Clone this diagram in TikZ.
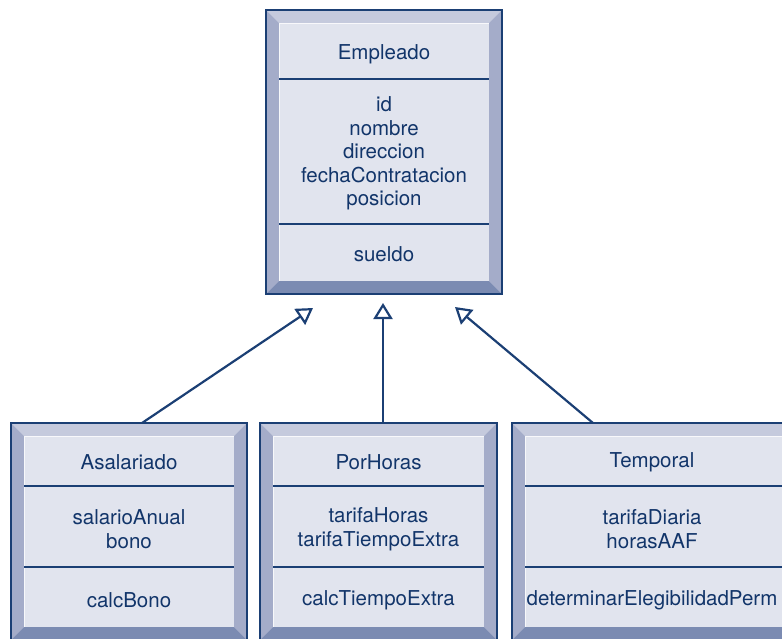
\documentclass[tikz,border=0pt]{standalone}
\usepackage{fontspec}
\setmainfont{TeX Gyre Heros}
\usetikzlibrary{arrows.meta,calc}
\definecolor{edgeblue}{HTML}{1B3F74}
\definecolor{facecol}{HTML}{E1E4EE}
\definecolor{bevtop}{HTML}{C5CADD}
\definecolor{bevside}{HTML}{A4ACC9}
\definecolor{bevbot}{HTML}{7B8BB2}
\definecolor{txtcol}{HTML}{12356A}
\tikzset{
  classbox/.style={rectangle, fill=facecol, draw=none, inner sep=0pt, outer sep=0pt},
  frameline/.style={draw=edgeblue, line width=1.5pt},
  divline/.style={draw=edgeblue, line width=1.2pt},
  label/.style={font=\fontsize{20.5}{23.5}\selectfont, text=txtcol, align=center, inner sep=0pt},
  inh/.style={draw=edgeblue, line width=2.2pt, -{Triangle[open, length=16pt, width=19pt, fill=white]}},
}
% name, cx, cy, w, h
\newcommand\bevelbox[5]{%
  \node[classbox, minimum width=#4pt, minimum height=#5pt] (#1) at (#2,#3) {};
  \fill[bevtop] (#1.north west) -- (#1.north east) -- ($(#1.north east)+(-13,13)$) -- ($(#1.north west)+(13,13)$) -- cycle;
  \fill[bevside] (#1.north west) -- ($(#1.north west)+(13,13)$) -- ($(#1.south west)+(13,-13)$) -- (#1.south west) -- cycle;
  \fill[bevside] (#1.north east) -- ($(#1.north east)+(-13,13)$) -- ($(#1.south east)+(-13,-13)$) -- (#1.south east) -- cycle;
  \fill[bevbot] (#1.south west) -- ($(#1.south west)+(13,-13)$) -- ($(#1.south east)+(-13,-13)$) -- (#1.south east) -- cycle;
  \draw[white, line width=0.7pt, opacity=0.8] ($(#1.south west)+(13,-13)$) -- ($(#1.north west)+(13,13)$) -- ($(#1.north east)+(-13,13)$);
  \draw[frameline] (#1.north west) rectangle (#1.south east);
}
\begin{document}
\begin{tikzpicture}[x=1pt, y=-1pt]
\useasboundingbox (0,0) rectangle (782,638);
\clip (0,0) rectangle (782,638);

% Empleado
\bevelbox{emp}{384}{152}{236}{284}
\draw[divline] ($(emp.north west)+(13,69)$) -- ($(emp.north east)+(-13,69)$);
\draw[divline] ($(emp.north west)+(13,214)$) -- ($(emp.north east)+(-13,214)$);
\node[label] (empname) at ($(emp.north)+(0,44)$) {Empleado};
\node[label] (empattr) at ($(emp.north)+(0,143.5)$) {id\\nombre\\direccion\\fechaContratacion\\posicion};
\node[label] (empops) at ($(emp.north)+(0,244)$) {sueldo};

% Asalariado
\bevelbox{asal}{129}{531.5}{236}{217}
\draw[divline] ($(asal.north west)+(13,63)$) -- ($(asal.north east)+(-13,63)$);
\draw[divline] ($(asal.north west)+(13,144)$) -- ($(asal.north east)+(-13,144)$);
\node[label] (asalname) at ($(asal.north)+(0,39)$) {Asalariado};
\node[label] (asalattr) at ($(asal.north)+(0,106)$) {salarioAnual\\bono};
\node[label] (asalops) at ($(asal.north)+(0,177.5)$) {calcBono};

% PorHoras
\bevelbox{por}{378.5}{531.5}{237}{217}
\draw[divline] ($(por.north west)+(13,63)$) -- ($(por.north east)+(-13,63)$);
\draw[divline] ($(por.north west)+(13,144)$) -- ($(por.north east)+(-13,144)$);
\node[label] (porname) at ($(por.north)+(0,39)$) {PorHoras};
\node[label] (porattr) at ($(por.north)+(0,106)$) {tarifaHoras\\tarifaTiempoExtra};
\node[label] (porops) at ($(por.north)+(0,177.5)$) {calcTiempoExtra};

% Temporal (extends past the right edge)
\bevelbox{temp}{662}{531.5}{300}{217}
\draw[divline] ($(temp.north west)+(13,63)$) -- ($(temp.north east)+(-13,63)$);
\draw[divline] ($(temp.north west)+(13,144)$) -- ($(temp.north east)+(-13,144)$);
\node[label] (tempname) at ($(temp.north)+(-10,39)$) {Temporal};
\node[label] (tempattr) at ($(temp.north)+(-10,106)$) {tarifaDiaria\\horasAAF};
\node[label] (tempops) at ($(temp.north)+(-10,177.5)$) {determinarElegibilidadPerm};

% Inheritance connectors
\draw[inh] ($(asal.north)+(13,0)$) -- ($(emp.south)+(-71,14)$);
\draw[inh] ($(por.north)+(4.5,0)$) -- ($(emp.south)+(-1,9)$);
\draw[inh] ($(temp.north)+(-69,0)$) -- ($(emp.south)+(71,13)$);
\end{tikzpicture}
\end{document}
